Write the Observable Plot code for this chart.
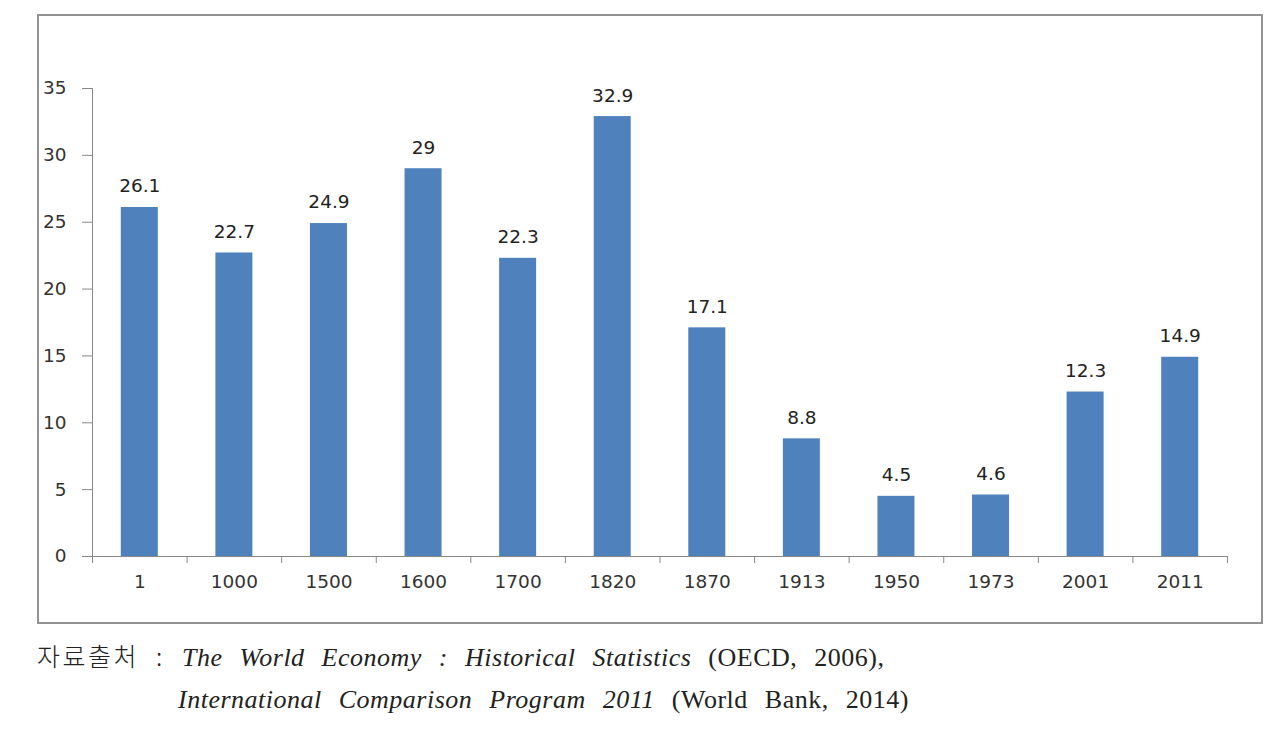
<!DOCTYPE html>
<html>
<head>
<meta charset="utf-8">
<script src="https://cdn.jsdelivr.net/npm/d3@7"></script>
<script src="https://cdn.jsdelivr.net/npm/@observablehq/plot@0.6"></script>
<style>
  html, body { margin: 0; padding: 0; background: #fff; }
  #frame { position: absolute; left: 37px; top: 14px; width: 1226px; height: 610px; border: 2px solid #929292; box-sizing: border-box; }
  #caption { position: absolute; left: 37px; top: 634px; font-family: "Liberation Serif", serif; font-size: 26px; color: #222; line-height: 42px; letter-spacing: 0.5px; word-spacing: 10px; white-space: nowrap; }
  #caption .ko { display: inline-block; width: 119px; font-family: "Noto Sans CJK KR", sans-serif; font-weight: 300; font-size: 25px; letter-spacing: 2.5px; word-spacing: 0; }
  #caption .colon { display: inline-block; width: 26px; font-family: "Noto Sans CJK KR", sans-serif; font-weight: 300; font-size: 25px; }
  #caption i { font-style: italic; }
  #caption .l2 { padding-left: 141px; }
</style>
</head>
<body>
<div id="frame"></div>
<div id="caption">
  <div><span class="ko">자료출처</span><span class="colon">:</span><i>The World Economy : Historical Statistics</i> (OECD, 2006),</div>
  <div class="l2"><i>International Comparison Program 2011</i> (World Bank, 2014)</div>
</div>
<script>
const years = ["1", "1000", "1500", "1600", "1700", "1820", "1870", "1913", "1950", "1973", "2001", "2011"];
const shares = [26.1, 22.7, 24.9, 29, 22.3, 32.9, 17.1, 8.8, 4.5, 4.6, 12.3, 14.9];
const yTicks = [0, 5, 10, 15, 20, 25, 30, 35];

const data = years.map((y, i) => ({year: y, value: shares[i]}));

const W = 1226, H = 610;
const mL = 55, mR = 36, mT = 74, mB = 68;
const bw = (W - mL - mR) / years.length;
const barW = 37;

const chart = Plot.plot({
  width: W,
  height: H,
  marginLeft: mL,
  marginRight: mR,
  marginTop: mT,
  marginBottom: mB,
  style: { fontFamily: "DejaVu Sans, sans-serif", fontSize: "18.5px", color: "#333", background: "transparent" },
  x: { domain: years, padding: 0, round: false, label: null },
  y: { domain: [0, 35], label: null },
  marks: [
    Plot.barY(data, { x: "year", y: "value", fill: "#4f81bd", insetLeft: (bw - barW) / 2, insetRight: (bw - barW) / 2 }),
    Plot.text(data, { x: "year", y: "value", text: d => String(d.value), dy: -21, fill: "#222", fontSize: 18.5 }),
    Plot.axisY({ ticks: yTicks, tickSize: 10, tickPadding: 16, stroke: "#888", fill: "#333", label: null }),
    Plot.ruleX([years[0]], { x: d => d, y1: 0, y2: 35, dx: -bw / 2, stroke: "#888" }),
    Plot.ruleY([0], { stroke: "#888" }),
    Plot.axisX({ tickSize: 0, tickPadding: 18, fill: "#333", label: null }),
    Plot.ruleX(years, { x: d => d, y1: 0, y2: 0, insetBottom: -7, dx: -bw / 2, stroke: "#888" }),
    Plot.ruleX([years[years.length - 1]], { x: d => d, y1: 0, y2: 0, insetBottom: -7, dx: bw / 2, stroke: "#888" })
  ]
});
chart.style.position = "absolute";
chart.style.left = "37px";
chart.style.top = "14px";
document.body.appendChild(chart);
</script>
</body>
</html>
